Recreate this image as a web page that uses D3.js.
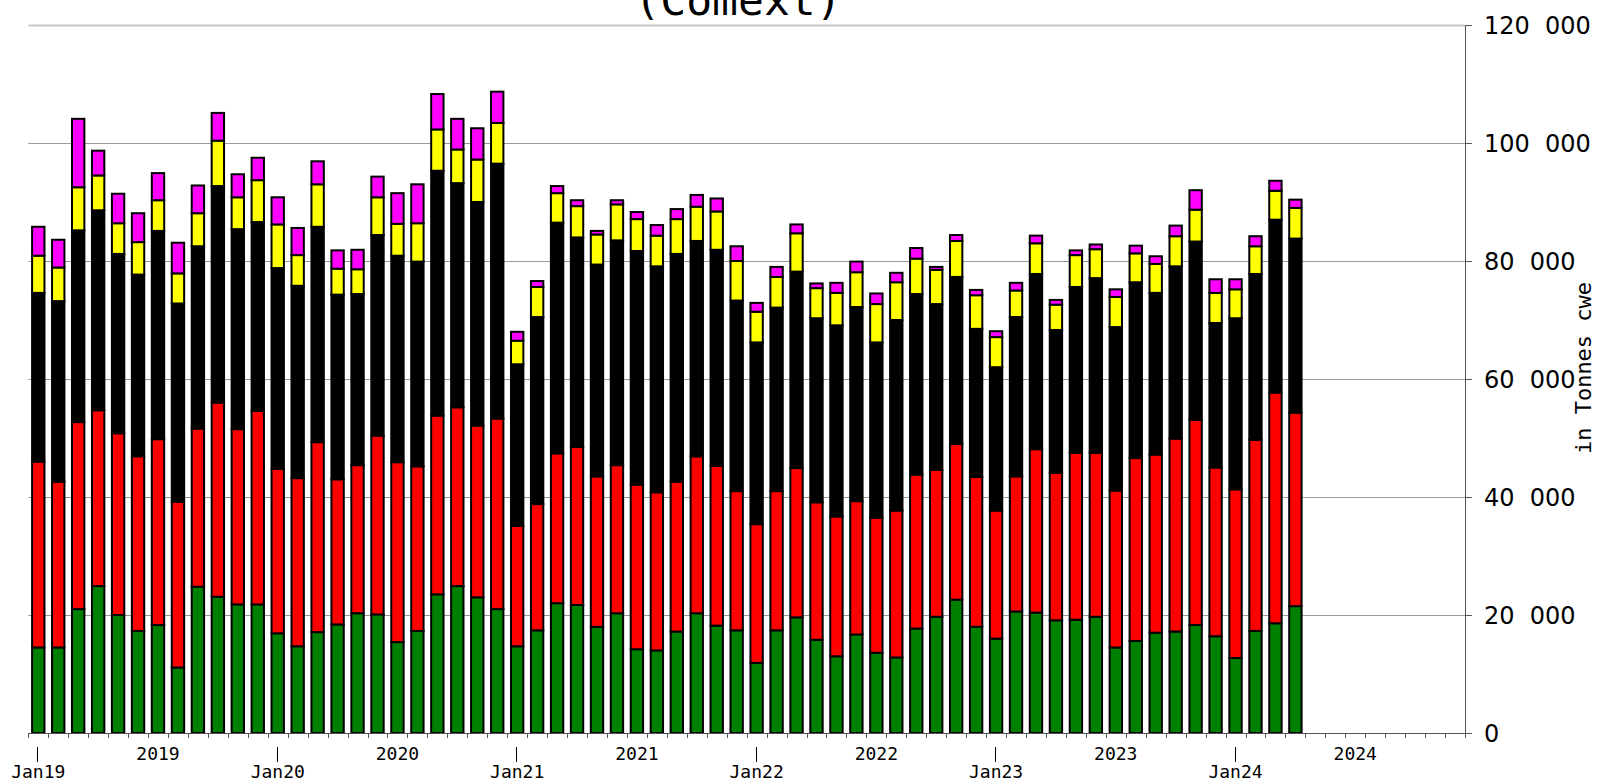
<!DOCTYPE html>
<html>
    <head>
        <title>Comext monthly</title>
        <meta charset="UTF-8">
        <script type="text/javascript" src="https://cdn.jsdelivr.net/npm/d3@7"></script>
        <style type="text/css">
            body { margin: 0; background: #fff; }
            svg { display: block; }
        </style>
    </head>
    <body>
        <div id="chart"></div>

        <script type="text/javascript">
            var svgW = 1598;
            var svgH = 781;

            // stacked series, bottom to top, tonnes cwe per month (Jan19 .. Apr24)
            var green = [14500, 14500, 21000, 24900, 20000, 17300, 18300, 11100, 24800, 23100, 21800, 21800,
                16900, 14700, 17100, 18400, 20300, 20100, 15400, 17300, 23500, 24900, 23000, 21000,
                14700, 17400, 22000, 21700, 18000, 20300, 14200, 14000, 17200, 20300, 18200, 17400,
                11900, 17400, 19600, 15800, 13000, 16700, 13600, 12800, 17700, 19700, 22600, 18000,
                16000, 20600, 20400, 19100, 19200, 19700, 14500, 15600, 17000, 17200, 18300, 16400,
                12700, 17300, 18600, 21500];
            var red = [31500, 28100, 31700, 29800, 30800, 29600, 31500, 28100, 26800, 32900, 29700, 32800,
                27900, 28500, 32200, 24600, 25100, 30300, 30500, 27900, 30300, 30300, 29100, 32300,
                20400, 21400, 25400, 26800, 25500, 25100, 27900, 26800, 25400, 26600, 27100, 23600,
                23500, 23600, 25300, 23300, 23700, 22600, 22900, 24900, 26100, 24900, 26400, 25400,
                21700, 22900, 27700, 25000, 28300, 27800, 26600, 31000, 30200, 32700, 34800, 28600,
                28600, 32400, 39100, 32800];
            var black = [28600, 30600, 32500, 33900, 30400, 30800, 35300, 33600, 30900, 36700, 33900, 32000,
                34000, 32600, 36500, 31300, 29000, 34000, 35000, 34700, 41500, 38000, 37900, 43200,
                27400, 31700, 39100, 35500, 35900, 38100, 39600, 38300, 38600, 36500, 36600, 32300,
                30800, 31100, 33300, 31200, 32400, 32900, 29700, 32300, 30600, 28100, 28300, 25100,
                24300, 27000, 29700, 24200, 28100, 29600, 27700, 29800, 27400, 29200, 30200, 24500,
                29000, 28100, 29300, 29500];
            var yellow = [6300, 5700, 7300, 5900, 5200, 5500, 5200, 5100, 5600, 7700, 5400, 7100,
                7400, 5200, 7200, 4400, 4200, 6400, 5400, 6500, 7000, 5700, 7200, 6900,
                4000, 5100, 5000, 5300, 5100, 6100, 5400, 5200, 5900, 5800, 6500, 6700,
                5200, 5200, 6500, 5100, 5500, 5900, 6500, 6400, 6000, 5800, 6100, 5700,
                5100, 4500, 5200, 4300, 5400, 4900, 5100, 4900, 4900, 5100, 5400, 5100,
                4900, 4700, 4900, 5200];
            var magenta = [4900, 4700, 11600, 4200, 5000, 4900, 4600, 5200, 4700, 4700, 3900, 3800,
                4600, 4600, 3900, 3100, 3300, 3500, 5200, 6600, 6000, 5200, 5300, 5300,
                1500, 1000, 1200, 1000, 600, 700, 1200, 1800, 1700, 2000, 2200, 2500,
                1500, 1700, 1500, 800, 1700, 1800, 1800, 1600, 1800, 500, 1000, 900,
                1000, 1300, 1300, 800, 800, 800, 1300, 1300, 1300, 1800, 3300, 2300,
                1700, 1700, 1700, 1400];

            var seriesKeys = ["green", "red", "black", "yellow", "magenta"];
            var seriesColors = ["#008000", "#ff0000", "#000000", "#ffff00", "#ff00ff"];

            var yTicks = [0, 20000, 40000, 60000, 80000, 100000, 120000];
            var yearLabels = ["2019", "2020", "2021", "2022", "2023", "2024"];
            var janLabels = ["Jan19", "Jan20", "Jan21", "Jan22", "Jan23", "Jan24"];

            // month slots on the axis: Jan 2019 to Dec 2024
            var months = d3.timeMonths(new Date(2019, 0, 1), new Date(2025, 0, 1));

            var rows = green.map(function (d, i) {
                return {month: months[i], green: d, red: red[i], black: black[i],
                    yellow: yellow[i], magenta: magenta[i]};
            });

            var x = d3.scaleBand()
                    .domain(months)
                    .range([28.3, 1465])
                    .paddingInner(0.38)
                    .paddingOuter(0.19);
            var step = x.step();

            var y = d3.scaleLinear()
                    .domain([0, 120000])
                    .range([733, 25]);

            var stack = d3.stack().keys(seriesKeys)(rows);

            var svg = d3.select("#chart").append("svg")
                    .attr("width", svgW)
                    .attr("height", svgH);

            // title, mostly cut off at the top
            svg.append("text")
                    .attr("x", 738)
                    .attr("y", 15)
                    .attr("text-anchor", "middle")
                    .style("font-family", "'DejaVu Sans Mono'")
                    .style("font-size", "43px")
                    .text("(Comext)");

            // grid lines
            svg.append("g").selectAll("line")
                    .data(yTicks.slice(1))
                    .enter()
                    .append("line")
                    .attr("x1", 28.3)
                    .attr("x2", 1465)
                    .attr("y1", function (d) { return Math.round(y(d)) + 0.5; })
                    .attr("y2", function (d) { return Math.round(y(d)) + 0.5; })
                    .attr("stroke", function (d) { return d === 120000 ? "#c8c8c8" : "#9a9a9a"; })
                    .attr("stroke-width", function (d) { return d === 120000 ? 2 : 1; });

            // bars
            var layers = svg.append("g").selectAll("g")
                    .data(stack)
                    .enter()
                    .append("g")
                    .attr("fill", function (d, i) { return seriesColors[i]; });

            layers.selectAll("rect")
                    .data(function (d) { return d; })
                    .enter()
                    .append("rect")
                    .attr("x", function (d) { return x(d.data.month); })
                    .attr("y", function (d) { return y(d[1]); })
                    .attr("width", x.bandwidth())
                    .attr("height", function (d) { return y(d[0]) - y(d[1]); })
                    .attr("stroke", "#000")
                    .attr("stroke-width", 2);

            // x axis line and minor ticks at slot edges
            var axisG = svg.append("g");
            axisG.append("line")
                    .attr("x1", 28.3).attr("x2", 1465)
                    .attr("y1", 733.5).attr("y2", 733.5)
                    .attr("stroke", "#555");

            var edges = months.map(function (m) { return x(m) - x.paddingInner() * step / 2; });
            edges.push(1465);
            axisG.selectAll("line.minor")
                    .data(edges)
                    .enter()
                    .append("line")
                    .attr("class", "minor")
                    .attr("x1", function (d) { return Math.round(d) + 0.5; })
                    .attr("x2", function (d) { return Math.round(d) + 0.5; })
                    .attr("y1", 733)
                    .attr("y2", 738)
                    .attr("stroke", "#555");

            var janMonths = months.filter(function (m) { return m.getMonth() === 0; });
            var julMonths = months.filter(function (m) { return m.getMonth() === 6; });

            axisG.selectAll("line.jan")
                    .data(janMonths)
                    .enter()
                    .append("line")
                    .attr("class", "jan")
                    .attr("x1", function (d) { return Math.round(x(d) + x.bandwidth() / 2) - 0.5; })
                    .attr("x2", function (d) { return Math.round(x(d) + x.bandwidth() / 2) - 0.5; })
                    .attr("y1", 747)
                    .attr("y2", 762)
                    .attr("stroke", "#000");

            axisG.selectAll("text.jan")
                    .data(janMonths)
                    .enter()
                    .append("text")
                    .attr("class", "jan")
                    .attr("x", function (d) { return x(d) + x.bandwidth() / 2; })
                    .attr("y", 778)
                    .attr("text-anchor", "middle")
                    .style("font-family", "'DejaVu Sans Mono'")
                    .style("font-size", "18px")
                    .text(function (d, i) { return janLabels[i]; });

            axisG.selectAll("text.year")
                    .data(julMonths)
                    .enter()
                    .append("text")
                    .attr("class", "year")
                    .attr("x", function (d) { return x(d) + x.bandwidth() / 2; })
                    .attr("y", 760)
                    .attr("text-anchor", "middle")
                    .style("font-family", "'DejaVu Sans Mono'")
                    .style("font-size", "18px")
                    .text(function (d, i) { return yearLabels[i]; });

            // right y axis
            var yAxisG = svg.append("g");
            yAxisG.append("line")
                    .attr("x1", 1465.5).attr("x2", 1465.5)
                    .attr("y1", y(120000)).attr("y2", 734)
                    .attr("stroke", "#555");

            yAxisG.selectAll("line.tick")
                    .data(yTicks)
                    .enter()
                    .append("line")
                    .attr("class", "tick")
                    .attr("x1", 1465)
                    .attr("x2", 1472)
                    .attr("y1", function (d) { return Math.round(y(d)) + 0.5; })
                    .attr("y2", function (d) { return Math.round(y(d)) + 0.5; })
                    .attr("stroke", "#555");

            // thousands split by a wide gap, as in the source
            yAxisG.selectAll("text")
                    .data(yTicks)
                    .enter()
                    .append("text")
                    .attr("x", 1484)
                    .attr("y", function (d) { return y(d); })
                    .attr("dy", "0.36em")
                    .style("white-space", "pre")
                    .style("font-family", "'DejaVu Sans'")
                    .style("font-size", "24px")
                    .text(function (d) { return d === 0 ? "0" : d3.format(",")(d).replace(",", "  "); });

            svg.append("text")
                    .attr("transform", "translate(1591,368) rotate(-90)")
                    .attr("text-anchor", "middle")
                    .style("font-family", "'DejaVu Sans Mono'")
                    .style("font-size", "22px")
                    .text("in Tonnes cwe");
        </script>
    </body>
</html>
